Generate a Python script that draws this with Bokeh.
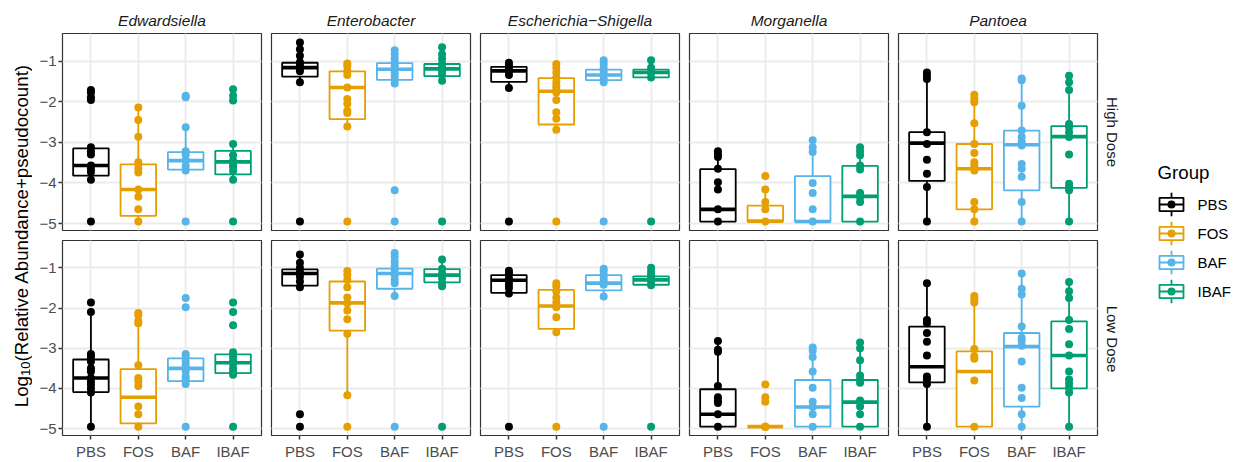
import math
from bokeh.plotting import figure
from bokeh.layouts import row, column
from bokeh.models import (Range1d, FixedTicker, LinearAxis, Grid, ColumnDataSource,
                          CustomJSTickFormatter)
from bokeh.core.properties import value
from bokeh.embed import file_html
from bokeh.resources import INLINE

# ---------------- data ----------------
groups = ["PBS", "FOS", "BAF", "IBAF"]
group_colors = ["#000000", "#E69F00", "#56B4E9", "#009E73"]
genera = ["Edwardsiella", "Enterobacter", "Escherichia\u2212Shigella", "Morganella", "Pantoea"]
doses = ["High Dose", "Low Dose"]
y_ticks = [-5, -4, -3, -2, -1]

# points per group (PBS, FOS, BAF, IBAF); box = [lower whisker, q1, median, q3, upper whisker]
edwardsiella_high_pts = [
    [-1.71, -1.77, -1.89, -1.96, -3.12, -3.22, -3.30, -3.57, -3.65, -3.73, -3.92, -4.95],
    [-2.14, -2.45, -2.86, -3.49, -3.54, -3.65, -3.74, -4.16, -4.34, -4.65, -4.95],
    [-1.85, -1.89, -2.63, -3.22, -3.30, -3.44, -3.58, -3.69, -4.95],
    [-1.69, -1.85, -1.97, -3.04, -3.32, -3.45, -3.53, -3.60, -3.70, -3.92, -4.95]]
edwardsiella_high_box = [[-3.92, -3.82, -3.57, -3.15, -3.12], [-4.95, -4.81, -4.16, -3.54, -2.14],
                         [-3.69, -3.67, -3.45, -3.24, -2.63], [-3.92, -3.79, -3.48, -3.21, -3.04]]

enterobacter_high_pts = [
    [-0.54, -0.71, -0.87, -1.03, -1.11, -1.19, -1.25, -1.52, -4.95],
    [-1.06, -1.12, -1.24, -1.34, -1.65, -1.93, -2.05, -2.22, -2.28, -2.61, -4.95],
    [-0.73, -0.83, -0.93, -1.03, -1.11, -1.19, -1.28, -1.36, -1.46, -1.55, -4.18, -4.95],
    [-0.66, -0.83, -0.95, -1.07, -1.16, -1.24, -1.34, -1.48, -4.95]]
enterobacter_high_box = [[-1.52, -1.38, -1.16, -1.04, -0.54], [-2.61, -2.43, -1.65, -1.25, -1.06],
                         [-1.55, -1.46, -1.20, -1.05, -0.73], [-1.48, -1.37, -1.19, -1.07, -0.66]]

escherichia_high_pts = [
    [-1.04, -1.11, -1.19, -1.25, -1.34, -1.66, -4.95],
    [-1.07, -1.16, -1.28, -1.40, -1.52, -1.61, -1.69, -1.77, -1.96, -2.26, -2.42, -2.69, -4.95],
    [-0.98, -1.07, -1.16, -1.24, -1.32, -1.42, -1.52, -4.95],
    [-0.98, -1.16, -1.28, -1.40, -4.95]]
escherichia_high_box = [[-1.66, -1.51, -1.24, -1.14, -1.04], [-2.69, -2.56, -1.74, -1.42, -1.07],
                        [-1.52, -1.47, -1.34, -1.21, -0.98], [-1.40, -1.40, -1.28, -1.21, -0.98]]

morganella_high_pts = [
    [-3.22, -3.30, -3.36, -3.65, -3.98, -4.16, -4.65, -4.95],
    [-3.83, -4.16, -4.47, -4.65, -4.95],
    [-2.95, -3.12, -3.24, -4.00, -4.25, -4.65, -4.95],
    [-3.12, -3.22, -3.32, -3.57, -3.67, -4.25, -4.35, -4.47, -4.95]]
morganella_high_box = [[-4.95, -4.95, -4.65, -3.66, -3.22], [-4.95, -4.95, -4.94, -4.56, -4.16],
                       [-4.95, -4.95, -4.95, -3.83, -2.95], [-4.95, -4.95, -4.33, -3.58, -3.12]]

pantoea_high_pts = [
    [-1.28, -1.36, -1.44, -2.75, -3.04, -3.43, -3.77, -4.10, -4.95],
    [-1.83, -1.93, -2.01, -2.53, -3.04, -3.26, -3.49, -3.57, -3.69, -4.47, -4.65, -4.95],
    [-1.43, -1.47, -2.10, -2.71, -2.87, -2.99, -3.08, -3.53, -3.65, -3.85, -4.47, -4.95],
    [-1.36, -1.52, -1.71, -2.55, -2.63, -2.75, -2.87, -3.30, -4.02, -4.10, -4.18, -4.95]]
pantoea_high_box = [[-4.95, -3.95, -3.02, -2.75, -1.28], [-4.95, -4.65, -3.65, -3.04, -1.83],
                    [-4.95, -4.18, -3.06, -2.71, -1.43], [-4.95, -4.12, -2.86, -2.60, -1.36]]

edwardsiella_low_pts = [
    [-1.86, -2.10, -3.14, -3.22, -3.33, -3.50, -3.58, -3.74, -3.82, -3.90, -4.00, -4.10, -4.95],
    [-2.12, -2.18, -2.32, -2.38, -3.42, -3.74, -3.82, -3.94, -4.45, -4.64, -4.95],
    [-1.75, -1.98, -3.14, -3.22, -3.33, -3.42, -3.50, -3.58, -3.70, -3.78, -3.89, -4.95],
    [-1.86, -2.10, -2.43, -3.10, -3.20, -3.30, -3.38, -3.50, -3.58, -3.66, -4.95]]
edwardsiella_low_box = [[-4.95, -4.09, -3.74, -3.28, -2.10], [-4.95, -4.87, -4.22, -3.52, -2.12],
                        [-3.89, -3.82, -3.50, -3.25, -3.14], [-3.66, -3.62, -3.36, -3.15, -3.10]]

enterobacter_low_pts = [
    [-0.67, -0.87, -1.00, -1.10, -1.22, -1.34, -1.48, -4.64, -4.95],
    [-1.08, -1.18, -1.30, -1.48, -1.74, -1.88, -2.06, -2.28, -2.64, -4.17, -4.95],
    [-0.63, -0.73, -0.85, -0.95, -1.06, -1.18, -1.30, -1.38, -1.70, -4.95],
    [-0.79, -1.02, -1.14, -1.26, -1.38, -1.46, -4.95]]
enterobacter_low_box = [[-1.48, -1.44, -1.14, -1.04, -0.67], [-4.17, -2.56, -1.87, -1.34, -1.08],
                        [-1.70, -1.52, -1.14, -1.02, -0.63], [-1.46, -1.36, -1.18, -1.03, -0.79]]

escherichia_low_pts = [
    [-1.07, -1.14, -1.26, -1.34, -1.42, -1.50, -1.64, -4.95],
    [-1.38, -1.46, -1.58, -1.74, -1.86, -1.98, -2.23, -2.60, -4.95],
    [-1.02, -1.08, -1.18, -1.26, -1.34, -1.42, -1.71, -4.95],
    [-1.00, -1.10, -1.18, -1.26, -1.34, -1.43, -4.95]]
escherichia_low_box = [[-1.64, -1.62, -1.31, -1.18, -1.07], [-2.60, -2.52, -1.95, -1.55, -1.38],
                       [-1.71, -1.56, -1.38, -1.18, -1.02], [-1.43, -1.42, -1.30, -1.21, -1.00]]

morganella_low_pts = [
    [-2.82, -3.04, -3.09, -3.94, -4.22, -4.30, -4.36, -4.64, -4.95],
    [-3.90, -4.22, -4.33, -4.95, -4.95, -4.95],
    [-2.98, -3.06, -3.22, -3.58, -3.98, -4.33, -4.46, -4.64, -4.95],
    [-2.86, -3.00, -3.30, -3.68, -3.78, -3.86, -4.30, -4.45, -4.64, -4.95]]
morganella_low_box = [[-4.95, -4.95, -4.64, -4.02, -2.82], [-4.95, -4.95, -4.95, -4.95, -4.95],
                      [-4.95, -4.95, -4.46, -3.79, -2.98], [-4.95, -4.95, -4.34, -3.79, -2.86]]

pantoea_low_pts = [
    [-1.38, -2.30, -2.38, -2.62, -2.84, -3.18, -3.70, -3.78, -3.89, -4.95],
    [-1.70, -1.78, -1.86, -3.02, -3.20, -3.26, -3.80, -4.95],
    [-1.14, -1.52, -1.66, -2.46, -2.74, -2.82, -2.94, -3.33, -3.98, -4.24, -4.64, -4.95],
    [-1.35, -1.58, -1.75, -2.30, -2.52, -2.90, -3.18, -3.58, -3.78, -3.88, -3.98, -4.10, -4.95]]
pantoea_low_box = [[-4.95, -3.85, -3.46, -2.46, -1.38], [-4.95, -4.95, -3.58, -3.08, -1.70],
                   [-4.95, -4.45, -2.96, -2.62, -1.14], [-4.95, -4.00, -3.18, -2.33, -1.35]]

panel_pts = [
    [edwardsiella_high_pts, enterobacter_high_pts, escherichia_high_pts, morganella_high_pts, pantoea_high_pts],
    [edwardsiella_low_pts, enterobacter_low_pts, escherichia_low_pts, morganella_low_pts, pantoea_low_pts]]
panel_box = [
    [edwardsiella_high_box, enterobacter_high_box, escherichia_high_box, morganella_high_box, pantoea_high_box],
    [edwardsiella_low_box, enterobacter_low_box, escherichia_low_box, morganella_low_box, pantoea_low_box]]

# ---------------- style / layout ----------------
FONT = "Liberation Sans"
BOX_W = 0.75
LW = 1.8
MED_LW = 3.6
PT_SIZE = 8
GRID_COLOR = "#EBEBEB"
BORDER_COLOR = "#333333"
TICK_COLOR = "#4D4D4D"

FRAME_W, FRAME_H = 199, 197
YLAB_W = 32
LEFT_AXIS = 30
HALF_GAP = 5
TOP_STRIP = 33
BOTTOM_AXIS = 25
RIGHT_W = 137
TOTAL_H = TOP_STRIP + 2 * FRAME_H + 2 * HALF_GAP + BOTTOM_AXIS  # 462
X0, Y0 = 0, 0

all_vals = [v for r in panel_pts for pan in r for grp in pan for v in grp]
lo_v, hi_v = min(all_vals), max(all_vals)
pad = 0.05 * (hi_v - lo_v)
YLIM = (lo_v - pad, hi_v + pad)
XLIM = (0.4, len(groups) + 0.6)

xpos = [i + 1 for i in range(len(groups))]


def style_axis(ax):
    ax.axis_line_color = None
    ax.major_tick_line_color = BORDER_COLOR
    ax.major_tick_line_width = 1.5
    ax.major_tick_in = 0
    ax.major_tick_out = 4
    ax.minor_tick_line_color = None
    ax.major_label_standoff = 2
    ax.major_label_text_font = FONT
    ax.major_label_text_font_size = "15px"
    ax.major_label_text_color = TICK_COLOR


def make_panel(r, c):
    left = LEFT_AXIS if c == 0 else HALF_GAP
    top = TOP_STRIP if r == 0 else HALF_GAP
    bottom = HALF_GAP if r == 0 else BOTTOM_AXIS
    p = figure(width=FRAME_W + left + HALF_GAP, height=FRAME_H + top + bottom,
               x_range=Range1d(*XLIM), y_range=Range1d(*YLIM),
               x_axis_location=None, y_axis_location=None,
               output_backend="svg", toolbar_location=None,
               min_border_left=left, min_border_right=HALF_GAP,
               min_border_top=top, min_border_bottom=bottom,
               background_fill_color="white", border_fill_color="white")
    p.outline_line_color = BORDER_COLOR
    p.outline_line_width = 1.2
    p.add_layout(Grid(dimension=0, ticker=FixedTicker(ticks=xpos),
                      grid_line_color=GRID_COLOR, grid_line_width=1.8))
    p.add_layout(Grid(dimension=1, ticker=FixedTicker(ticks=y_ticks),
                      grid_line_color=GRID_COLOR, grid_line_width=1.8))

    box = panel_box[r][c]
    pts = panel_pts[r][c]
    bsrc = ColumnDataSource(dict(
        x=xpos,
        left=[x - BOX_W / 2 for x in xpos], right=[x + BOX_W / 2 for x in xpos],
        lo=[b[0] for b in box], q1=[b[1] for b in box], med=[b[2] for b in box],
        q3=[b[3] for b in box], hi=[b[4] for b in box], color=group_colors))
    p.segment(x0="x", y0="q3", x1="x", y1="hi", line_color="color", line_width=LW, source=bsrc)
    p.segment(x0="x", y0="q1", x1="x", y1="lo", line_color="color", line_width=LW, source=bsrc)
    p.quad(left="left", right="right", bottom="q1", top="q3", fill_color="white",
           line_color="color", line_width=LW, source=bsrc)
    p.segment(x0="left", y0="med", x1="right", y1="med", line_color="color",
              line_width=MED_LW, line_cap="butt", source=bsrc)
    px, py, pc = [], [], []
    for i, grp in enumerate(pts):
        for v in grp:
            px.append(xpos[i]); py.append(v); pc.append(group_colors[i])
    p.scatter(x="x", y="y", size=PT_SIZE, fill_color="c", line_color=None,
              source=ColumnDataSource(dict(x=px, y=py, c=pc)))

    if c == 0:
        yax = LinearAxis(ticker=FixedTicker(ticks=y_ticks),
                         formatter=CustomJSTickFormatter(
                             code="return tick < 0 ? '\\u2212' + Math.abs(tick) : String(tick);"))
        style_axis(yax)
        p.add_layout(yax, "left")
    if r == 1:
        xax = LinearAxis(ticker=FixedTicker(ticks=xpos),
                         major_label_overrides={x: g for x, g in zip(xpos, groups)})
        style_axis(xax)
        xax.major_label_standoff = 3
        p.add_layout(xax, "below")
    if r == 0:
        p.title.text = genera[c]
        p.title.align = "center"
        p.title.text_font = FONT
        p.title.text_font_size = "15.5px"
        p.title.text_font_style = "italic"
        p.title.text_color = "#1A1A1A"
        if "standoff" in p.title.properties():
            p.title.standoff = 9
    return p


panels = [[make_panel(r, c) for c in range(len(genera))] for r in range(len(doses))]


# ------------- pixel-space helper figures (coords = page px, y negated) -------------
def pixel_fig(x_left, width):
    f = figure(width=width, height=TOTAL_H,
               x_range=Range1d(x_left, x_left + width), y_range=Range1d(-(Y0 + TOTAL_H), -Y0),
               x_axis_location=None, y_axis_location=None,
               output_backend="svg", toolbar_location=None,
               min_border=0, min_border_left=0, min_border_right=0,
               min_border_top=0, min_border_bottom=0,
               background_fill_color="white", border_fill_color="white")
    f.outline_line_color = None
    f.grid.visible = False
    return f


# y axis title with subscript
AW = {'L': 556, 'o': 556, 'g': 556, '1': 556, '0': 556, '(': 333, 'R': 722, 'e': 556,
      'l': 222, 'a': 556, 't': 278, 'i': 222, 'v': 500, ' ': 278, 'A': 667, 'b': 556,
      'u': 556, 'n': 556, 'd': 556, 'c': 500, '+': 584, 'p': 556, 's': 500, ')': 333}


def tw(s, size):
    return sum(AW.get(ch, 556) for ch in s) / 1000.0 * size


ylab = pixel_fig(X0, YLAB_W)
TITLE_SIZE = 18.7
SUB_SIZE = 13
# (text, font size, x of the text's vertical middle)
parts = [("Log", TITLE_SIZE, 20.5), ("10", SUB_SIZE, 24.8),
         ("(Relative Abundance+pseudocount)", TITLE_SIZE, 20.5)]
total_len = sum(tw(s, sz) for s, sz, _ in parts)
panel_mid = Y0 + TOP_STRIP + FRAME_H + HALF_GAP  # middle of panel block
start = panel_mid + total_len / 2
for s, sz, bx in parts:
    ylab.text(x=[bx], y=[-start], text=[s], angle=math.pi / 2,
              text_font=value(FONT), text_font_size=value(f"{sz}px"),
              text_align="left", text_baseline="middle", text_color="black")
    start -= tw(s, sz)

# right strips + legend
rx0 = X0 + YLAB_W + LEFT_AXIS + len(genera) * (FRAME_W + HALF_GAP) + (len(genera) - 1) * HALF_GAP
right = pixel_fig(rx0, RIGHT_W)
row_centers = [Y0 + TOP_STRIP + FRAME_H / 2,
               Y0 + TOP_STRIP + FRAME_H + 2 * HALF_GAP + FRAME_H / 2]
right.text(x=[rx0 + 10] * 2, y=[-yc for yc in row_centers], text=doses, angle=-math.pi / 2,
           text_font=value(FONT), text_font_size=value("15px"), text_align="center",
           text_baseline="middle", text_color="#1A1A1A")

LEG_X = 1157
right.text(x=[LEG_X], y=[-171.5], text=["Group"], text_font=value(FONT),
           text_font_size=value(f"{TITLE_SIZE}px"), text_align="left",
           text_baseline="middle", text_color="black")
key_cy = [204 + 29 * i for i in range(len(groups))]
kx = LEG_X + 2 + 12
ksrc = ColumnDataSource(dict(
    x=[kx] * 4, l=[kx - 12] * 4, r=[kx + 12] * 4,
    cy=[-c for c in key_cy], bt=[-c + 6.7 for c in key_cy], bb=[-c - 6.7 for c in key_cy],
    wt=[-c + 11.7 for c in key_cy], wb=[-c - 11.7 for c in key_cy], color=group_colors,
    lab=groups, lx=[kx + 26] * 4))
right.segment(x0="x", y0="bt", x1="x", y1="wt", line_color="color", line_width=LW, source=ksrc)
right.segment(x0="x", y0="bb", x1="x", y1="wb", line_color="color", line_width=LW, source=ksrc)
right.quad(left="l", right="r", bottom="bb", top="bt", fill_color="white",
           line_color="color", line_width=LW, source=ksrc)
right.segment(x0="l", y0="cy", x1="r", y1="cy", line_color="color", line_width=LW, source=ksrc)
right.scatter(x="x", y="cy", size=PT_SIZE, fill_color="color", line_color=None, source=ksrc)
right.text(x="lx", y="cy", text="lab", text_font=value(FONT), text_font_size=value("15px"),
           text_align="left", text_baseline="middle", text_color="black", source=ksrc)

grid = column(row(*panels[0]), row(*panels[1]))
layout = row(ylab, grid, right)

open("out.html", "w").write(file_html(layout, INLINE))
